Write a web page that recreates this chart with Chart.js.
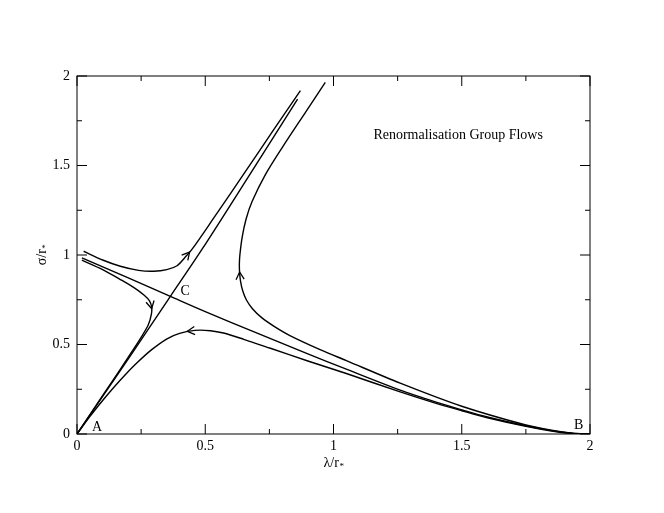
<!DOCTYPE html>
<html>
<head>
<meta charset="utf-8">
<script src="https://cdn.jsdelivr.net/npm/chart.js@4.4.1/dist/chart.umd.min.js"></script>
<style>
  html, body { margin: 0; padding: 0; background: #fff; }
  canvas { display: block; }
</style>
</head>
<body>
<canvas id="flows" width="664" height="513"></canvas>
<script>
// ticks, same on both axes
const tickValues = [0, 0.5, 1, 1.5, 2];
const tickLabels = ['0', '0.5', '1', '1.5', '2'];
const minorTicks = [0.25, 0.75, 1.25, 1.75];

// separatrix A -> C -> top
const sepACx = [0, 0.1, 0.2, 0.364, 0.487, 0.676, 0.86];
const sepACy = [0, 0.21, 0.42, 0.769, 1.031, 1.455, 1.871];

// separatrix from the left, through C, down to B
const sepCBx = [0.019, 0.2, 0.364, 0.5, 0.7, 0.9, 1.05, 1.26, 1.4, 1.5, 1.6, 1.75, 1.85, 1.93, 2];
const sepCBy = [0.984, 0.872, 0.769, 0.684, 0.565, 0.448, 0.362, 0.245, 0.178, 0.135, 0.095, 0.046, 0.019, 0.004, 0];

// flow from upper left, bending up along the separatrix
const upperX = [0.026, 0.1, 0.169, 0.24, 0.299, 0.35, 0.39, 0.42, 0.448, 0.53, 0.649, 0.767, 0.871];
const upperY = [1.021, 0.972, 0.937, 0.914, 0.909, 0.918, 0.94, 0.985, 1.031, 1.2, 1.45, 1.7, 1.918];

// flow from the left, turning down into A
const leftX = [0.019, 0.1, 0.169, 0.225, 0.262, 0.282, 0.291, 0.29, 0.278, 0.25, 0.205, 0.14, 0.07, 0];
const leftY = [0.971, 0.918, 0.863, 0.815, 0.775, 0.745, 0.71, 0.67, 0.61, 0.54, 0.44, 0.30, 0.15, 0];

// flow from B back to A
const lowerX = [0, 0.05, 0.1, 0.143, 0.19, 0.234, 0.29, 0.351, 0.40, 0.46, 0.52, 0.571, 0.65, 0.754, 0.9, 1.05, 1.26, 1.4, 1.5, 1.6, 1.75, 1.85, 1.93, 2];
const lowerY = [0, 0.097, 0.187, 0.26, 0.334, 0.398, 0.47, 0.532, 0.562, 0.579, 0.577, 0.564, 0.529, 0.479, 0.408, 0.338, 0.235, 0.171, 0.13, 0.091, 0.043, 0.017, 0.003, 0];

// flow from B up to the top right
const rightX = [0.968, 0.892, 0.8, 0.735, 0.683, 0.659, 0.644, 0.635, 0.633, 0.634, 0.638, 0.646, 0.66, 0.684, 0.72, 0.77, 0.83, 0.95, 1.05, 1.26, 1.5, 1.75, 1.85, 1.93, 2];
const rightY = [1.965, 1.8, 1.6, 1.45, 1.3, 1.2, 1.1, 1.0, 0.95, 0.9, 0.85, 0.8, 0.75, 0.7, 0.65, 0.6, 0.55, 0.47, 0.41, 0.284, 0.155, 0.05, 0.021, 0.005, 0];

// arrow heads: tip, and a point just behind it on the curve
const arrowTipX = [0.439, 0.291, 0.43, 0.634];
const arrowTipY = [1.016, 0.70, 0.574, 0.905];
const arrowFromX = [0.41, 0.285, 0.47, 0.636];
const arrowFromY = [0.968, 0.74, 0.58, 0.86];

// fixed point labels
const pointNames = ['A', 'B', 'C'];
const pointNameX = [0.078, 1.956, 0.422];
const pointNameY = [0.037, 0.05, 0.797];

const plotTitle = 'Renormalisation Group Flows';
const plotTitleX = 1.486;
const plotTitleY = 1.666;

const serif = "'Liberation Serif', 'Times New Roman', serif";

function pts(xs, ys) {
  return xs.map((x, i) => ({ x: x, y: ys[i] }));
}

function curve(xs, ys) {
  return {
    data: pts(xs, ys),
    showLine: true,
    borderColor: '#000',
    borderWidth: 1.4,
    pointRadius: 0,
    tension: 0.3,
    fill: false,
  };
}

// text with a small lowered asterisk, like r with subscript *
function subTitle(ctx, main, cx, base) {
  ctx.font = '14px ' + serif;
  const w1 = ctx.measureText(main).width;
  ctx.font = '9px ' + serif;
  const w2 = ctx.measureText('*').width;
  const x0 = cx - (w1 + w2) / 2;
  ctx.textAlign = 'left';
  ctx.textBaseline = 'alphabetic';
  ctx.font = '14px ' + serif;
  ctx.fillText(main, x0, base);
  ctx.font = '9px ' + serif;
  ctx.fillText('*', x0 + w1 + 0.5, base + 2);
}

const decor = {
  id: 'decor',
  afterDatasetsDraw(chart) {
    const { ctx, chartArea: a, scales: { x, y } } = chart;
    ctx.save();
    ctx.strokeStyle = '#000';
    ctx.lineWidth = 1;
    ctx.strokeRect(a.left, a.top, a.right - a.left, a.bottom - a.top);

    // inward ticks on all four sides
    const tick = (vals, len) => {
      vals.forEach((v) => {
        const px = x.getPixelForValue(v);
        const py = y.getPixelForValue(v);
        ctx.beginPath();
        ctx.moveTo(px, a.bottom); ctx.lineTo(px, a.bottom - len);
        ctx.moveTo(px, a.top); ctx.lineTo(px, a.top + len);
        ctx.moveTo(a.left, py); ctx.lineTo(a.left + len, py);
        ctx.moveTo(a.right, py); ctx.lineTo(a.right - len, py);
        ctx.stroke();
      });
    };
    tick(tickValues, 10);
    tick(minorTicks, 5);

    // arrow heads
    ctx.lineWidth = 1.3;
    arrowTipX.forEach((tx, i) => {
      const px = x.getPixelForValue(tx);
      const py = y.getPixelForValue(arrowTipY[i]);
      const bx = x.getPixelForValue(arrowFromX[i]);
      const by = y.getPixelForValue(arrowFromY[i]);
      const ang = Math.atan2(py - by, px - bx);
      const len = 8.5, spread = 0.5;
      ctx.beginPath();
      ctx.moveTo(px - len * Math.cos(ang - spread), py - len * Math.sin(ang - spread));
      ctx.lineTo(px, py);
      ctx.lineTo(px - len * Math.cos(ang + spread), py - len * Math.sin(ang + spread));
      ctx.stroke();
    });

    ctx.fillStyle = '#000';
    ctx.textAlign = 'center';
    ctx.textBaseline = 'middle';
    ctx.font = '14px ' + serif;
    pointNames.forEach((n, i) => {
      ctx.fillText(n, x.getPixelForValue(pointNameX[i]), y.getPixelForValue(pointNameY[i]));
    });
    ctx.fillText(plotTitle, x.getPixelForValue(plotTitleX), y.getPixelForValue(plotTitleY));

    // axis titles
    subTitle(ctx, 'λ/r', (a.left + a.right) / 2, 467);
    ctx.translate(45.5, (a.top + a.bottom) / 2);
    ctx.rotate(-Math.PI / 2);
    subTitle(ctx, 'σ/r', 0, 0);
    ctx.restore();
  },
};

new Chart(document.getElementById('flows'), {
  type: 'scatter',
  data: {
    datasets: [
      curve(sepACx, sepACy),
      curve(sepCBx, sepCBy),
      curve(upperX, upperY),
      curve(leftX, leftY),
      curve(lowerX, lowerY),
      curve(rightX, rightY),
    ],
  },
  options: {
    responsive: false,
    animation: false,
    layout: { padding: { left: 0, top: 76, right: 74, bottom: 0 } },
    plugins: { legend: { display: false }, tooltip: { enabled: false } },
    scales: {
      x: {
        type: 'linear',
        min: 0,
        max: 2,
        afterFit: (s) => { s.height = 79; },
        afterBuildTicks: (s) => { s.ticks = tickValues.map((v) => ({ value: v })); },
        grid: { display: false, drawTicks: false },
        border: { display: false },
        ticks: {
          padding: 4,
          color: '#000',
          font: { family: serif, size: 14 },
          callback: (v, i) => tickLabels[i],
        },
      },
      y: {
        type: 'linear',
        min: 0,
        max: 2,
        afterFit: (s) => { s.width = 77; },
        afterBuildTicks: (s) => { s.ticks = tickValues.map((v) => ({ value: v })); },
        grid: { display: false, drawTicks: false },
        border: { display: false },
        ticks: {
          padding: 7,
          color: '#000',
          font: { family: serif, size: 14 },
          callback: (v, i) => tickLabels[i],
        },
      },
    },
  },
  plugins: [decor],
});
</script>
</body>
</html>
